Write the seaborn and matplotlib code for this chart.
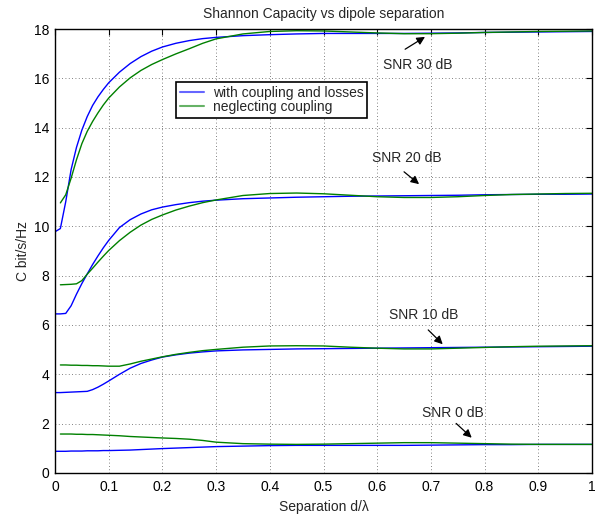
import numpy as np
import pandas as pd
import matplotlib
matplotlib.use("Agg")
import matplotlib.pyplot as plt
import seaborn as sns

# ---------------- data ----------------
x_blue = [0, 0.01, 0.02, 0.03, 0.04, 0.05, 0.06, 0.07, 0.08, 0.09, 0.1, 0.12, 0.14, 0.16,
          0.18, 0.2, 0.225, 0.25, 0.275, 0.3, 0.35, 0.4, 0.45, 0.5, 0.55, 0.6, 0.65, 0.7,
          0.75, 0.8, 0.85, 0.9, 0.95, 1.0]
x_green = x_blue[1:]

coupled_30 = [9.78, 9.91, 11.0, 12.3, 13.2, 13.9, 14.45, 14.9, 15.25, 15.55, 15.82, 16.25,
              16.6, 16.88, 17.1, 17.27, 17.42, 17.53, 17.61, 17.66, 17.73, 17.77, 17.8,
              17.82, 17.82, 17.82, 17.82, 17.83, 17.84, 17.86, 17.87, 17.88, 17.89, 17.9]
nocoup_30 = [10.95, 11.28, 11.95, 12.7, 13.35, 13.85, 14.25, 14.6, 14.92, 15.2, 15.65,
             16.02, 16.32, 16.56, 16.76, 16.99, 17.2, 17.42, 17.6, 17.8, 17.9, 17.93, 17.92,
             17.88, 17.84, 17.81, 17.81, 17.83, 17.86, 17.88, 17.9, 17.91, 17.92]

coupled_20 = [6.45, 6.45, 6.47, 6.78, 7.25, 7.68, 8.07, 8.45, 8.8, 9.13, 9.43, 9.95, 10.27,
              10.5, 10.67, 10.78, 10.88, 10.96, 11.02, 11.06, 11.12, 11.15, 11.18, 11.2,
              11.22, 11.23, 11.24, 11.25, 11.26, 11.28, 11.29, 11.3, 11.3, 11.31]
nocoup_20 = [7.63, 7.64, 7.65, 7.67, 7.8, 8.06, 8.3, 8.55, 8.79, 9.02, 9.42, 9.76, 10.05,
             10.28, 10.46, 10.66, 10.82, 10.96, 11.07, 11.25, 11.33, 11.35, 11.32, 11.26,
             11.2, 11.17, 11.17, 11.2, 11.25, 11.29, 11.31, 11.33, 11.34]

coupled_10 = [3.26, 3.26, 3.27, 3.28, 3.29, 3.3, 3.31, 3.38, 3.48, 3.6, 3.73, 4.0, 4.25,
              4.44, 4.58, 4.7, 4.79, 4.86, 4.91, 4.95, 4.99, 5.01, 5.03, 5.04, 5.05, 5.06,
              5.07, 5.08, 5.09, 5.1, 5.11, 5.12, 5.13, 5.14]
nocoup_10 = [4.38, 4.38, 4.37, 4.37, 4.36, 4.36, 4.35, 4.35, 4.34, 4.33, 4.33, 4.42, 4.53,
             4.62, 4.71, 4.81, 4.89, 4.96, 5.01, 5.1, 5.15, 5.16, 5.15, 5.1, 5.06, 5.03,
             5.03, 5.06, 5.09, 5.12, 5.14, 5.15, 5.16]

coupled_0 = [0.88, 0.88, 0.88, 0.89, 0.89, 0.89, 0.9, 0.9, 0.9, 0.91, 0.91, 0.92, 0.93,
             0.95, 0.97, 0.99, 1.01, 1.03, 1.05, 1.07, 1.09, 1.11, 1.12, 1.12, 1.12, 1.12,
             1.12, 1.13, 1.14, 1.15, 1.15, 1.16, 1.16, 1.16]
nocoup_0 = [1.58, 1.58, 1.58, 1.57, 1.57, 1.56, 1.56, 1.55, 1.54, 1.53, 1.51, 1.48, 1.46,
            1.44, 1.42, 1.4, 1.37, 1.32, 1.25, 1.19, 1.17, 1.16, 1.17, 1.19, 1.21, 1.23,
            1.23, 1.21, 1.19, 1.17, 1.16, 1.16, 1.16]

snr_labels = ["SNR 30 dB", "SNR 20 dB", "SNR 10 dB", "SNR 0 dB"]
methods = ["with coupling and losses", "neglecting coupling"]

# annotation positions (text anchor, arrow tail, arrow head) in data units
ann_text = [(0.611, 16.54), (0.590, 12.76), (0.622, 6.41), (0.683, 2.44)]
ann_tail = [(0.652, 17.18), (0.650, 12.21), (0.695, 5.80), (0.747, 2.01)]
ann_head = [(0.689, 17.68), (0.678, 11.71), (0.722, 5.22), (0.776, 1.43)]

# -------------- long table --------------
rows = []
coupled = [coupled_30, coupled_20, coupled_10, coupled_0]
nocoup = [nocoup_30, nocoup_20, nocoup_10, nocoup_0]
for lab, cb, cg in zip(snr_labels, coupled, nocoup):
    for xv, yv in zip(x_blue, cb):
        rows.append((xv, yv, methods[0], lab))
    for xv, yv in zip(x_green, cg):
        rows.append((xv, yv, methods[1], lab))
df = pd.DataFrame(rows, columns=["d", "C", "method", "snr"])

# -------------- plot --------------
sns.set_style("white")
plt.rcParams["font.family"] = ["Liberation Sans", "DejaVu Sans"]
FS = 10

fig = plt.figure(figsize=(6.01, 5.16), dpi=100)
ax = fig.add_axes([55 / 601, 43 / 516, 537 / 601, 444 / 516])

sns.lineplot(data=df, x="d", y="C", hue="method", units="snr", estimator=None,
             palette={methods[0]: (0, 0, 1), methods[1]: (0, 0.5, 0)},
             linewidth=1.0, ax=ax, sort=False)

ax.set_xlim(0, 1)
ax.set_ylim(0, 18)
ax.set_xticks(np.arange(0, 1.01, 0.1))
ax.set_xticklabels(["0", "0.1", "0.2", "0.3", "0.4", "0.5", "0.6", "0.7", "0.8", "0.9", "1"])
ax.set_yticks(np.arange(0, 19, 2))
ax.grid(True, linestyle=(0, (1, 3)), color="0.35", linewidth=0.6)
ax.tick_params(direction="in", length=4, width=0.8, top=True, right=True,
               labelsize=FS, colors="k")
ax.tick_params(axis="x", pad=5)
ax.tick_params(axis="y", pad=4)
for s in ax.spines.values():
    s.set_color("k")
    s.set_linewidth(1.0)

ax.set_title("Shannon Capacity vs dipole separation", fontsize=FS, pad=8)
ax.set_xlabel("Separation d/λ", fontsize=FS, labelpad=4)
ax.set_ylabel("C bit/s/Hz", fontsize=FS, labelpad=3)

for lab, tp, tl, hd in zip(snr_labels, ann_text, ann_tail, ann_head):
    ax.text(tp[0], tp[1], lab, ha="left", va="center", fontsize=FS)
    ax.annotate("", xy=hd, xytext=tl,
                arrowprops=dict(arrowstyle="-|>", color="k", lw=0.9,
                                mutation_scale=12, shrinkA=0, shrinkB=0))

leg = ax.legend(loc="upper left", bbox_to_anchor=(0.2248, 0.881), borderaxespad=0,
                fontsize=FS, frameon=True, fancybox=False, framealpha=1,
                edgecolor="k", handlelength=1.75, borderpad=0.3, labelspacing=0.0,
                handletextpad=0.6)
leg.get_frame().set_linewidth(1.2)
for line in leg.get_lines():
    line.set_linewidth(1.5)
    line.set_alpha(0.6)

fig.savefig("out.png", dpi=100)
